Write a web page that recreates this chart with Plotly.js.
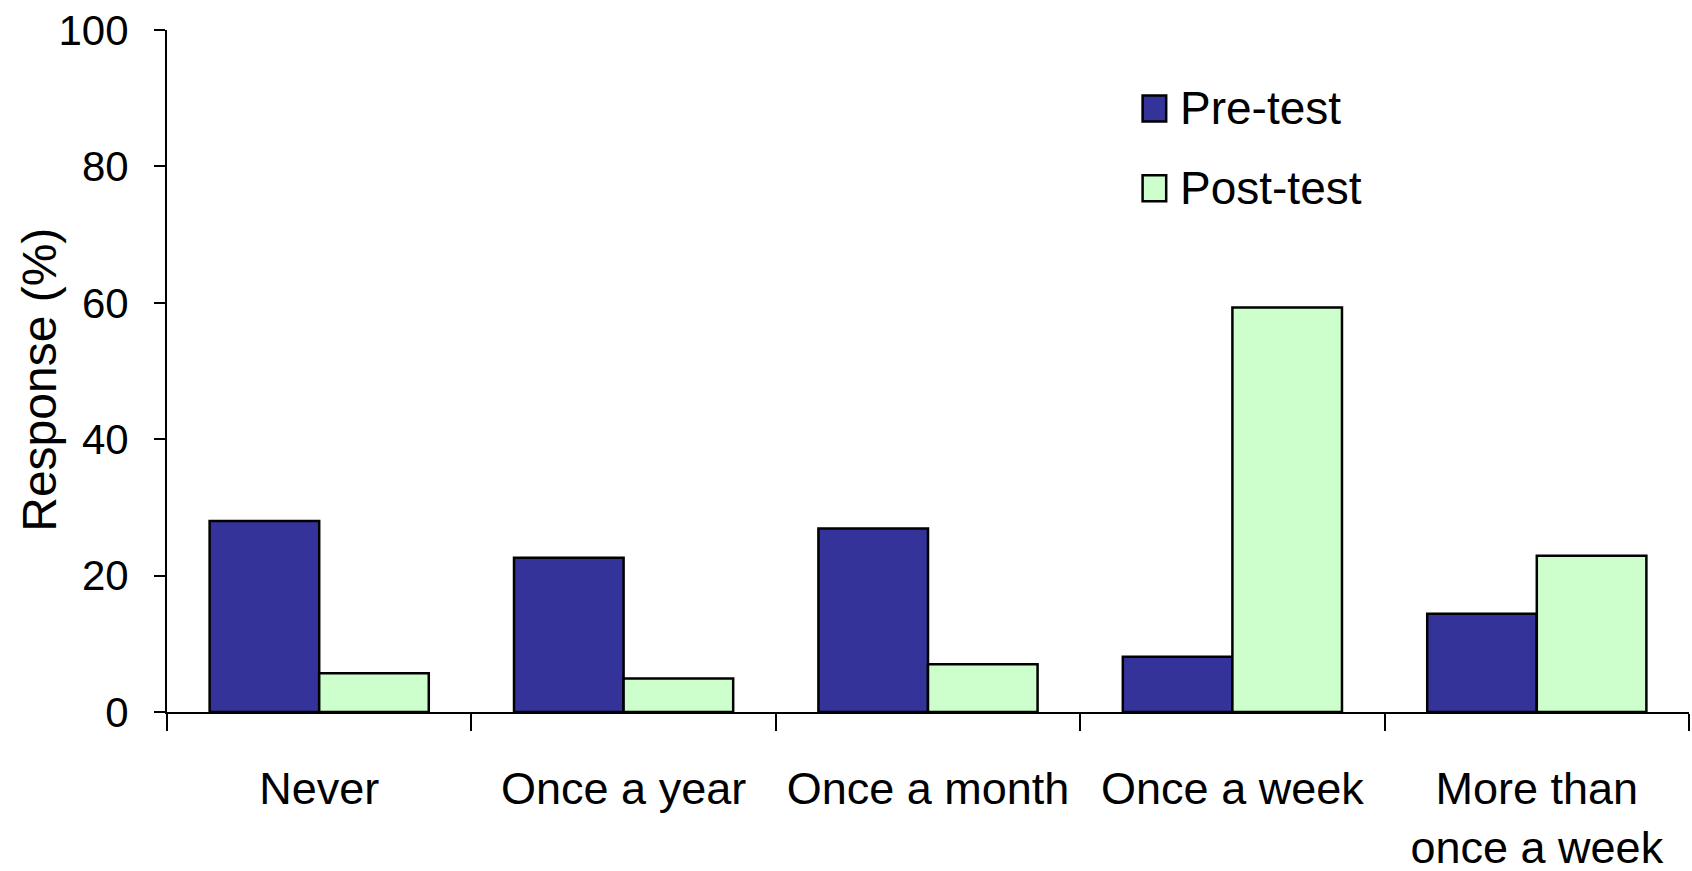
<!DOCTYPE html>
<html>
<head>
<meta charset="utf-8">
<script src="https://cdn.plot.ly/plotly-3.0.1.min.js"></script>
<style>html,body{margin:0;padding:0;background:#fff;}#chart{width:1692px;height:871px;}</style>
</head>
<body>
<div id="chart"></div>
<script>
const categories = ["Never", "Once a year", "Once a month", "Once a week", "More than<br>once a week"];
const preTest = [28.0, 22.6, 26.9, 8.1, 14.4];
const postTest = [5.7, 4.9, 7.0, 59.3, 22.9];
const seriesNames = ["Pre-test", "Post-test"];
const seriesColors = ["#333399", "#CCFFCC"];
const yTicks = [0, 20, 40, 60, 80, 100];
const yTitle = "Response (%)";

const FONT = "Liberation Sans, Arial, sans-serif";

const traces = [preTest, postTest].map((vals, i) => ({
  type: "bar",
  name: seriesNames[i],
  x: categories,
  y: vals,
  marker: {color: seriesColors[i], line: {color: "#000", width: 2.5}},
  showlegend: false,
  hoverinfo: "x+y"
}));

// custom legend (larger symbols than Plotly allows)
const legendX = 0.641, legendY0 = 0.885, legendDy = 0.117;
const shapes = [], annotations = [];
seriesNames.forEach((n, i) => {
  const yc = legendY0 - i * legendDy;
  shapes.push({type: "rect", xref: "paper", yref: "paper",
    x0: legendX, x1: legendX + 0.0155, y0: yc - 0.019, y1: yc + 0.019,
    fillcolor: seriesColors[i], line: {color: "#000", width: 2.5}});
  annotations.push({xref: "paper", yref: "paper", x: legendX + 0.0235, y: yc,
    xanchor: "left", yanchor: "middle", text: n, showarrow: false,
    font: {family: FONT, size: 46, color: "#000"}});
});

// y-axis title placed precisely
annotations.push({xref: "paper", yref: "paper", x: -0.0835, y: 0.487,
  xanchor: "center", yanchor: "middle", textangle: -90, text: yTitle, showarrow: false,
  font: {family: FONT, size: 48, color: "#000"}});

const layout = {
  width: 1692, height: 871,
  margin: {l: 167, r: 3, t: 30, b: 159},
  paper_bgcolor: "#fff", plot_bgcolor: "#fff",
  barmode: "group", bargap: 0.28, bargroupgap: 0,
  font: {family: FONT, color: "#000"},
  showlegend: false,
  xaxis: {
    type: "category", range: [-0.5, 4.5],
    showline: true, linecolor: "#000", linewidth: 2,
    ticks: "outside", tickson: "boundaries", ticklen: 17, tickwidth: 2, tickcolor: "#000",
    tickfont: {family: FONT, size: 45, color: "#000"},
    ticklabelstandoff: 36,
    showgrid: false, zeroline: false, fixedrange: true
  },
  yaxis: {
    range: [0, 100], tickvals: yTicks,
    showline: true, linecolor: "#000", linewidth: 2,
    ticks: "outside", ticklen: 11, tickwidth: 2, tickcolor: "#000",
    tickfont: {family: FONT, size: 42, color: "#000"},
    ticklabelstandoff: 17,
    showgrid: false, zeroline: false, fixedrange: true
  },
  shapes: shapes,
  annotations: annotations
};

Plotly.newPlot("chart", traces, layout, {displayModeBar: false, staticPlot: false});
</script>
</body>
</html>
